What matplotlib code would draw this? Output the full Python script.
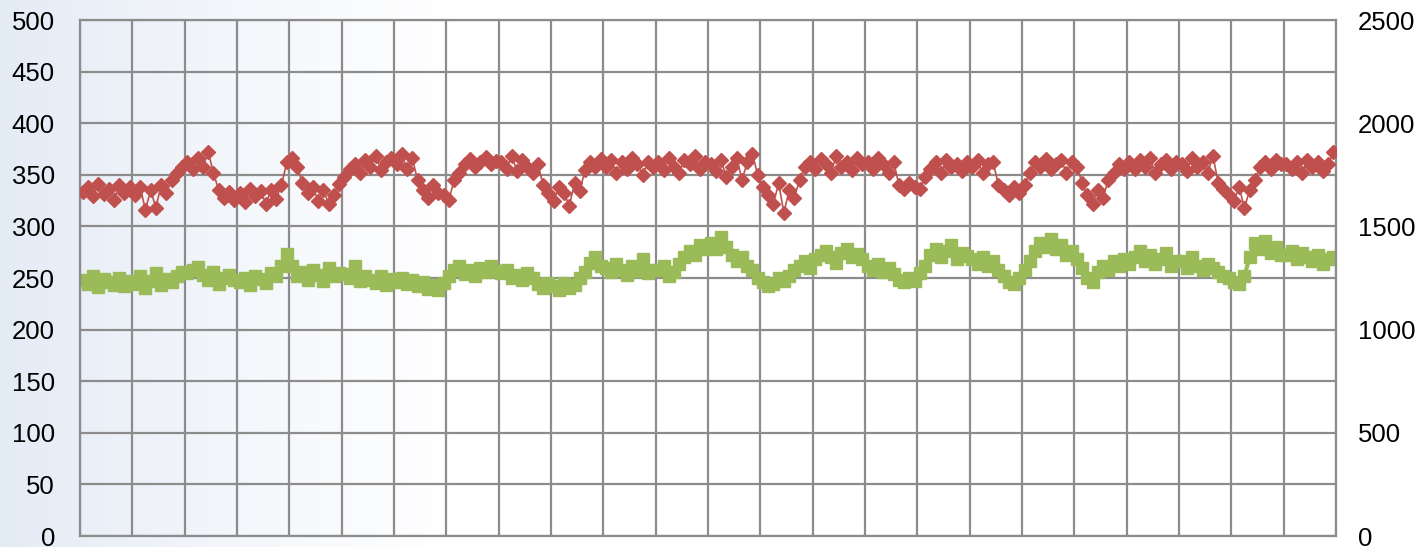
import numpy as np
import matplotlib
matplotlib.use("Agg")
from matplotlib import pyplot as plt

plt.rcParams['font.family'] = ['Liberation Sans', 'DejaVu Sans']

# Readings, 10 samples per grid column, 24 columns
red_values = [
    333, 338, 329, 341, 331, 336, 326, 340, 332, 338,
    330, 338, 316, 335, 318, 340, 332, 345, 352, 358,
    362, 356, 366, 358, 372, 352, 335, 328, 333, 326,
    332, 324, 336, 329, 334, 322, 335, 327, 340, 362,
    366, 358, 342, 332, 338, 325, 335, 322, 330, 341,
    348, 356, 360, 352, 364, 358, 368, 355, 362, 366,
    360, 370, 356, 366, 345, 335, 328, 340, 332, 330,
    326, 345, 352, 360, 365, 358, 362, 367, 360, 363,
    362, 356, 368, 354, 364, 358, 352, 360, 340, 332,
    325, 338, 332, 320, 342, 334, 355, 362, 358, 365,
    358, 364, 352, 362, 356, 366, 360, 350, 362, 358,
    362, 355, 366, 358, 352, 364, 360, 368, 356, 362,
    360, 354, 364, 348, 358, 366, 345, 362, 370, 350,
    338, 330, 322, 342, 313, 335, 328, 345, 358, 362,
    356, 365, 360, 352, 368, 358, 362, 355, 366, 360,
    362, 356, 366, 360, 352, 362, 340, 336, 342, 338,
    336, 348, 356, 362, 352, 364, 358, 360, 354, 362,
    358, 364, 352, 360, 362, 340, 335, 330, 338, 332,
    340, 352, 362, 358, 365, 356, 360, 364, 352, 362,
    358, 342, 330, 322, 335, 328, 345, 352, 360, 356,
    362, 356, 364, 358, 366, 352, 360, 364, 356, 362,
    360, 354, 366, 358, 362, 352, 368, 342, 336, 330,
    325, 338, 318, 335, 345, 358, 362, 356, 364, 360,
    360, 356, 362, 352, 364, 358, 362, 354, 360, 372,
]

green_values = [
    248, 244, 252, 241, 249, 246, 243, 250, 242, 247,
    244, 252, 240, 247, 255, 243, 249, 246, 252, 256,
    255, 258, 261, 253, 248, 256, 244, 250, 253, 248,
    246, 250, 243, 252, 249, 245, 255, 252, 262, 273,
    262, 252, 256, 248, 258, 253, 247, 260, 252, 255,
    254, 250, 262, 247, 252, 248, 245, 252, 243, 249,
    246, 250, 244, 248, 242, 246, 239, 243, 238, 245,
    252, 258, 262, 254, 258, 252, 260, 256, 262, 257,
    255, 258, 250, 253, 248, 255, 250, 244, 240, 245,
    242, 238, 245, 240, 243, 250, 256, 265, 270, 262,
    260, 256, 264, 258, 253, 262, 257, 268, 255, 258,
    258, 262, 252, 256, 264, 270, 276, 272, 282, 278,
    284, 278, 290, 280, 272, 266, 270, 262, 258, 250,
    246, 242, 244, 250, 247, 252, 258, 262, 266, 260,
    268, 272, 276, 270, 265, 274, 278, 270, 273, 268,
    262, 258, 264, 256, 260, 254, 248, 246, 250, 247,
    255, 262, 272, 278, 270, 276, 282, 268, 274, 271,
    268, 264, 270, 262, 266, 258, 252, 246, 244, 250,
    258, 266, 276, 284, 280, 288, 278, 282, 272, 276,
    268, 260, 250, 246, 256, 262, 258, 266, 262, 268,
    264, 270, 276, 266, 272, 264, 268, 274, 262, 266,
    266, 260, 270, 262, 258, 264, 260, 256, 252, 250,
    246, 244, 252, 270, 284, 278, 286, 274, 280, 272,
    272, 276, 268, 274, 270, 266, 272, 264, 268, 270,
]

left_ticks = [0, 50, 100, 150, 200, 250, 300, 350, 400, 450, 500]
right_ticks = [0, 500, 1000, 1500, 2000, 2500]

n = len(red_values)
x = np.arange(n) + 0.5

fig = plt.figure(figsize=(14.25, 5.47), dpi=100)

# soft bluish backdrop on the left side, fading to white
bg = fig.add_axes([0, 0, 1, 1], zorder=-10)
grad = np.linspace(0, 1, 400)
fade = np.clip(grad / 0.32, 0, 1) ** 0.8
img = np.zeros((1, 400, 3))
img[0, :, 0] = 0.89 + 0.11 * fade
img[0, :, 1] = 0.92 + 0.08 * fade
img[0, :, 2] = 0.96 + 0.04 * fade
bg.imshow(img, aspect='auto', extent=[0, 1, 0, 1])
bg.axis('off')

ax = fig.add_axes([80 / 1425, 11 / 547, 1256 / 1425, 516 / 547])
ax.patch.set_alpha(0)
grid_c = '#8c8c8c'

ax.plot(x, red_values, color='#C0504D', lw=1.2, marker='D', ms=7.5, mec='#C0504D', zorder=3)
ax.plot(x, green_values, color='#9BBB59', lw=3, marker='s', ms=8, mec='#9BBB59', zorder=2)

ax.set_xlim(0, n)
ax.set_ylim(0, 500)
ax.set_xticks(np.arange(0, n + 1, 10))
ax.set_yticks(left_ticks)
ax.set_xticklabels([])
ax.tick_params(axis='x', length=0)
ax.tick_params(axis='y', length=0, pad=18, labelsize=18.5)
ax.grid(True, color=grid_c, lw=1.6)
for s in ax.spines.values():
    s.set_color(grid_c)
    s.set_linewidth(1.6)

ax2 = ax.twinx()
ax2.set_ylim(0, 2500)
ax2.set_yticks(right_ticks)
ax2.tick_params(axis='y', length=0, pad=16, labelsize=18.5)
for s in ax2.spines.values():
    s.set_visible(False)

fig.savefig('out.png', dpi=100)
